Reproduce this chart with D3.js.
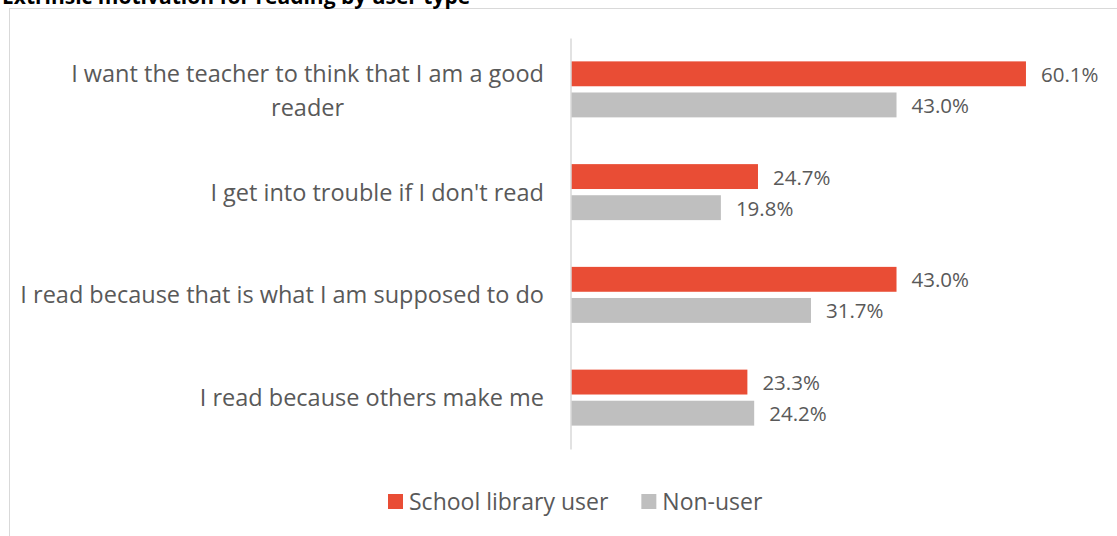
<!DOCTYPE html>
<html>
<head>
<meta charset="utf-8">
<script src="https://cdn.jsdelivr.net/npm/d3@7"></script>
<style>
  html, body { margin: 0; padding: 0; background: #fff; }
  svg { display: block; font-family: "Open Sans", sans-serif; }
</style>
</head>
<body>
<svg id="chart" width="1117" height="536"></svg>
<script>
// Reasons for reading, by school library use (percent of pupils)
const categoryLines = [
  ["I want the teacher to think that I am a good", "reader"],
  ["I get into trouble if I don't read"],
  ["I read because that is what I am supposed to do"],
  ["I read because others make me"]
];
const categories = categoryLines.map(l => l.join(" "));
const seriesNames = ["School library user", "Non-user"];
const libraryUser = [60.1, 24.7, 43.0, 23.3];
const nonUser = [43.0, 19.8, 31.7, 24.2];
const seriesColors = ["#E94D35", "#BFBFBF"];
const xMax = 70;

const W = 1117, H = 536;
const svg = d3.select("#chart");
const textColor = "#595959";

// chart area frame
svg.append("rect")
  .attr("x", 9.5).attr("y", 8.5)
  .attr("width", W + 10).attr("height", H + 10)
  .attr("fill", "#fff").attr("stroke", "#d9d9d9").attr("stroke-width", 1);

// title (sits above the frame)
svg.append("text")
  .attr("x", 2).attr("y", 4)
  .attr("font-size", 21).attr("font-weight", 700).attr("fill", "#000")
  .text("Extrinsic motivation for reading by user type");

const x = d3.scaleLinear().domain([0, xMax]).range([571, 571 + 7.57 * xMax]);
const y0 = d3.scaleBand().domain(categories).range([38, 449]).padding(0);
const groupH = 56;
const y1 = d3.scaleBand().domain(seriesNames).range([0, groupH]).paddingInner(0.2);
const groupOffset = (y0.bandwidth() - groupH) / 2;

const rows = categories.map((c, i) => ({
  cat: c,
  lines: categoryLines[i],
  vals: [
    { s: seriesNames[0], v: libraryUser[i], color: seriesColors[0] },
    { s: seriesNames[1], v: nonUser[i], color: seriesColors[1] }
  ]
}));

const groups = svg.selectAll("g.group").data(rows).join("g")
  .attr("class", "group")
  .attr("transform", d => `translate(0,${y0(d.cat) + groupOffset})`);

groups.selectAll("rect").data(d => d.vals).join("rect")
  .attr("x", x(0))
  .attr("y", d => y1(d.s))
  .attr("width", d => x(d.v) - x(0))
  .attr("height", y1.bandwidth())
  .attr("fill", d => d.color);

groups.selectAll("text.value").data(d => d.vals).join("text")
  .attr("class", "value")
  .attr("x", d => x(d.v) + 15)
  .attr("y", d => y1(d.s) + y1.bandwidth() / 2 + 8)
  .attr("font-size", 20.5)
  .attr("fill", textColor)
  .text(d => d.v.toFixed(1) + "%");

// vertical category axis line
const yAxis = d3.axisLeft(y0).tickSize(0).tickFormat("");
const axisG = svg.append("g").attr("transform", "translate(570.5,0)").call(yAxis);
axisG.select(".domain").attr("stroke", "#d9d9d9").attr("stroke-width", 1.5);

// category labels, right aligned, wrapped lines centred on each other
const labelRight = 544;
const lineH = 34;
const catFont = 23.5;
rows.forEach(r => {
  const cy = y0(r.cat) + y0.bandwidth() / 2;
  const n = r.lines.length;
  const t = svg.append("text")
    .attr("font-size", catFont).attr("fill", textColor);
  const tmp = t.append("tspan").text(r.lines[0]);
  const w0 = tmp.node().getComputedTextLength();
  tmp.remove();
  const cx = labelRight - w0 / 2;
  r.lines.forEach((line, j) => {
    t.append("tspan")
      .attr("x", cx)
      .attr("text-anchor", "middle")
      .attr("y", cy + 8.5 + (n > 1 ? 1.5 : 0) + (j - (n - 1) / 2) * lineH)
      .text(line);
  });
});

// legend
const legend = svg.append("g");
let lx = 388;
seriesNames.forEach((s, i) => {
  legend.append("rect")
    .attr("x", lx).attr("y", 494).attr("width", 15).attr("height", 15)
    .attr("fill", seriesColors[i]);
  const t = legend.append("text")
    .attr("x", lx + 21).attr("y", 510)
    .attr("font-size", 23).attr("fill", textColor)
    .text(s);
  lx += 21 + t.node().getComputedTextLength() + 33;
});
</script>
</body>
</html>
